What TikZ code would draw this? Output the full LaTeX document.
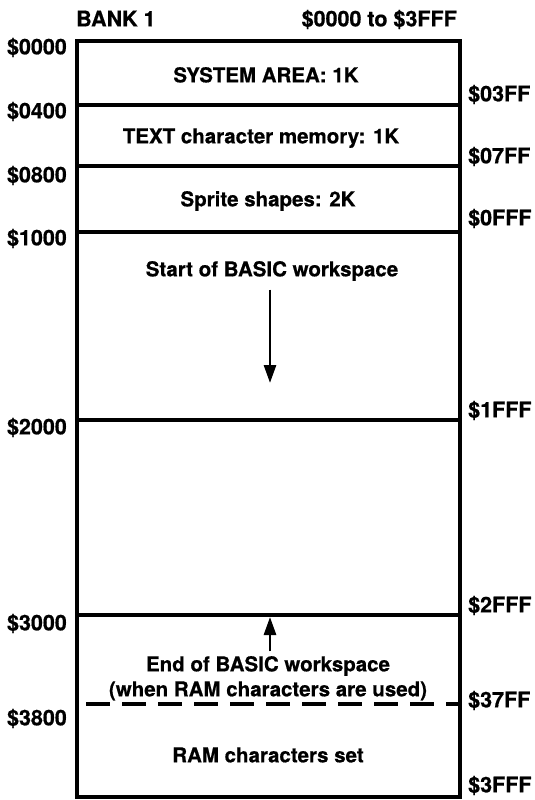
\documentclass[tikz,border=0pt]{standalone}
\usepackage{fontspec}
\setmainfont[BoldFeatures={FakeBold=0.6}]{TeX Gyre Heros}
\usetikzlibrary{arrows.meta}
\begin{document}
\begin{tikzpicture}[x=1pt,y=-1pt,
  txt/.style={font=\bfseries\fontsize{20.5}{24}\selectfont, inner sep=0pt,
              text height=14.7pt, text depth=0pt},
  addr/.style={txt, font=\bfseries\fontsize{21.5}{24}\selectfont},
  addrl/.style={addr, anchor=east},
  addrr/.style={addr, anchor=west},
  area/.style={txt, anchor=center},
  border/.style={line width=3.6pt},
  divider/.style={line width=3.2pt},
  flow/.style={line width=2.8pt, -{Triangle[length=18pt,width=12pt]}}]
\useasboundingbox (0,0) rectangle (535,800);

% header
\node[addr, anchor=west] (bank) at (76,19) {BANK 1};
\node[addr, anchor=east] (range) at (457,19) {\$0000 to \$3FFF};

% outer frame of the bank
\draw[border] (77,41) rectangle (460,797);

% region boundaries
\coordinate (b0400l) at (77,105);  \coordinate (b0400r) at (460,105);
\coordinate (b0800l) at (77,166);  \coordinate (b0800r) at (460,166);
\coordinate (b1000l) at (77,232);  \coordinate (b1000r) at (460,232);
\coordinate (b2000l) at (77,420);  \coordinate (b2000r) at (460,420);
\coordinate (b3000l) at (77,615);  \coordinate (b3000r) at (460,615);
\draw[divider] (b0400l) -- (b0400r);
\draw[divider] (b0800l) -- (b0800r);
\draw[divider] (b1000l) -- (b1000r);
\draw[divider] (b2000l) -- (b2000r);
\draw[divider] (b3000l) -- (b3000r);
\draw[line width=3.4pt, dash pattern=on 24pt off 12pt] (86,704) -- (458,704);

% start addresses
\node[addrl] (a0000) at (67,47)  {\$0000};
\node[addrl] (a0400) at (67,111) {\$0400};
\node[addrl] (a0800) at (67,175) {\$0800};
\node[addrl] (a1000) at (67,238) {\$1000};
\node[addrl] (a2000) at (67,427) {\$2000};
\node[addrl] (a3000) at (67,623) {\$3000};
\node[addrl] (a3800) at (67,718) {\$3800};

% end addresses
\node[addrr] (e03ff) at (468,94)  {\$03FF};
\node[addrr] (e07ff) at (468,156) {\$07FF};
\node[addrr] (e0fff) at (468,218) {\$0FFF};
\node[addrr] (e1fff) at (468,410) {\$1FFF};
\node[addrr] (e2fff) at (468,605) {\$2FFF};
\node[addrr] (e37ff) at (468,700) {\$37FF};
\node[addrr] (e3fff) at (468,785) {\$3FFF};

% region contents
\node[area] (sys)    at (266,75)  {SYSTEM AREA: 1K};
\node[area] (textm)  at (261,136) {TEXT character memory: 1K};
\node[area] (sprite) at (268,199) {Sprite shapes: 2K};
\node[area] (bstart) at (272,269) {Start of BASIC workspace};
\node[area] (bend)   at (268,664) {End of BASIC workspace};
\node[area] (bwhen)  at (268,689) {(when RAM characters are used)};
\node[area] (ramset) at (268,755) {RAM characters set};

% growth arrows
\coordinate (down) at (270,383);
\coordinate (up)   at (270,617);
\draw[flow] (bstart.south -| down) ++(0,13) -- (down);
\draw[flow] (bend.north -| up) ++(0,-5) -- (up);
\end{tikzpicture}
\end{document}
